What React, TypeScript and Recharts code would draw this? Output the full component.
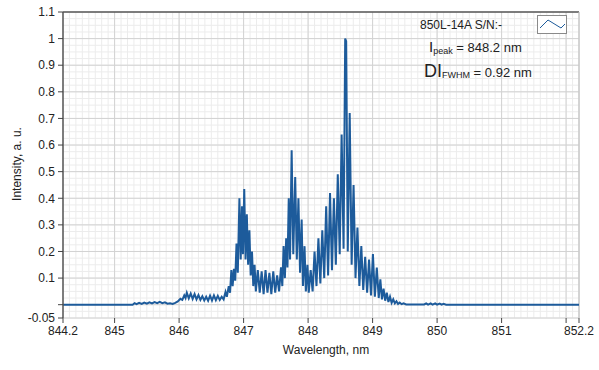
import { CartesianGrid, Line, LineChart, ReferenceLine, XAxis, YAxis } from "recharts";

// spectrum (nm, a.u.)
const wavelength = [
  844.2, 845.28, 845.31, 845.34, 845.38, 845.42, 845.46, 845.5, 845.54, 845.58, 845.62, 845.66, 845.7, 845.74,
  845.78, 845.82, 845.86, 845.9, 845.94, 845.98, 846.02, 846.05, 846.08, 846.1, 846.12, 846.15, 846.18, 846.21,
  846.24, 846.27, 846.3, 846.33, 846.36, 846.39, 846.42, 846.45, 846.48, 846.51, 846.54, 846.57, 846.6, 846.63,
  846.66, 846.69, 846.72, 846.74, 846.77, 846.79, 846.81, 846.83, 846.85, 846.87, 846.89, 846.91, 846.935, 846.955,
  846.975, 846.99, 847.01, 847.03, 847.05, 847.07, 847.09, 847.11, 847.13, 847.15, 847.17, 847.19, 847.22, 847.25,
  847.28, 847.31, 847.34, 847.37, 847.4, 847.43, 847.46, 847.49, 847.52, 847.55, 847.58, 847.6, 847.62, 847.64,
  847.66, 847.68, 847.7, 847.72, 847.745, 847.77, 847.8, 847.825, 847.85, 847.875, 847.9, 847.92, 847.945, 847.965,
  847.99, 848.01, 848.04, 848.07, 848.1, 848.13, 848.16, 848.19, 848.22, 848.25, 848.28, 848.31, 848.34, 848.37,
  848.4, 848.43, 848.46, 848.49, 848.52, 848.55, 848.575, 848.59, 848.615, 848.645, 848.675, 848.705, 848.735,
  848.765, 848.795, 848.825, 848.855, 848.885, 848.915, 848.945, 848.975, 849.005, 849.035, 849.065, 849.095,
  849.12, 849.145, 849.17, 849.195, 849.22, 849.245, 849.27, 849.295, 849.32, 849.345, 849.37, 849.395, 849.42,
  849.45, 849.48, 849.52, 849.8, 849.83, 849.86, 849.9, 849.93, 849.97, 850.0, 850.04, 850.07, 850.1, 850.14, 852.2,
];
const intensity = [
  0, 0, 0.006, 0.002, 0.007, 0.003, 0.008, 0.004, 0.009, 0.005, 0.01, 0.006, 0.011, 0.006,
  0.009, 0.004, 0.005, 0.003, 0.007, 0.012, 0.022, 0.018, 0.035, 0.025, 0.045, 0.024, 0.042, 0.022,
  0.04, 0.02, 0.036, 0.018, 0.032, 0.016, 0.03, 0.015, 0.034, 0.016, 0.035, 0.017, 0.033, 0.018,
  0.03, 0.02, 0.048, 0.03, 0.07, 0.045, 0.13, 0.07, 0.135, 0.09, 0.23, 0.12, 0.4, 0.17,
  0.37, 0.19, 0.435, 0.17, 0.34, 0.15, 0.28, 0.11, 0.2, 0.07, 0.15, 0.05, 0.13, 0.045,
  0.125, 0.04, 0.13, 0.045, 0.12, 0.04, 0.125, 0.045, 0.11, 0.05, 0.14, 0.07, 0.22, 0.1,
  0.25, 0.14, 0.4, 0.17, 0.58, 0.19, 0.48, 0.17, 0.4, 0.12, 0.32, 0.07, 0.22, 0.05,
  0.15, 0.045, 0.13, 0.05, 0.2, 0.07, 0.25, 0.08, 0.28, 0.1, 0.37, 0.11, 0.42, 0.13,
  0.4, 0.15, 0.49, 0.19, 0.64, 0.21, 1.0, 0.99, 0.2, 0.72, 0.15, 0.45, 0.1,
  0.29, 0.07, 0.22, 0.055, 0.18, 0.045, 0.17, 0.035, 0.19, 0.03, 0.14, 0.025,
  0.095, 0.02, 0.06, 0.015, 0.045, 0.01, 0.03, 0.007, 0.02, 0.005, 0.013, 0.003, 0.008,
  0.002, 0.005, 0.001, 0.001, 0.005, 0, 0.005, 0, 0.005, 0, 0.004, 0, 0.003, 0, 0,
];

const xTicks = [844.2, 845, 846, 847, 848, 849, 850, 851, 852, 852.2];
const yTicks = [-0.05, 0, 0.1, 0.2, 0.3, 0.4, 0.5, 0.6, 0.7, 0.8, 0.9, 1, 1.1];
const majorX = [845, 846, 847, 848, 849, 850, 851, 852, 852.2];
const majorY = [-0.05, 0, 0.1, 0.2, 0.3, 0.4, 0.5, 0.6, 0.7, 0.8, 0.9, 1];

const data = wavelength.map((x, i) => ({ x, y: intensity[i] }));

const minorX: number[] = [];
for (let i = 0; i <= 80; i++) minorX.push(+(844.2 + i * 0.1).toFixed(2));
const minorY: number[] = [];
for (let i = 0; i <= 46; i++) minorY.push(+(-0.05 + i * 0.025).toFixed(3));

const font = "'Liberation Sans', Arial, sans-serif";
const tickStyle = { fontSize: 12, fill: "#222", fontFamily: font };

export default function App() {
  return (
    <div style={{ position: "absolute", left: 0, top: 0, width: 599, height: 370, background: "#fff" }}>
      <LineChart width={599} height={370} data={data} margin={{ top: 12, right: 20, bottom: 22, left: 0 }}>
        <CartesianGrid stroke="#ececec" horizontalValues={minorY} verticalValues={minorX} />
        <CartesianGrid stroke="#d2d2d2" horizontalValues={majorY} verticalValues={majorX} />
        <XAxis
          dataKey="x"
          type="number"
          domain={[844.2, 852.2]}
          ticks={xTicks}
          allowDataOverflow
          height={30}
          axisLine={false}
          tickLine={{ stroke: "#444" }}
          tickSize={5}
          tickMargin={3}
          tick={tickStyle}
          tickFormatter={(v: number) => (v === 852 ? "" : String(v))}
          interval={0}
          label={{
            content: () => (
              <text x={326} y={354} textAnchor="middle" fontSize={12} fill="#222" fontFamily={font}>
                Wavelength, nm
              </text>
            ),
          }}
        />
        <YAxis
          type="number"
          domain={[-0.05, 1.1]}
          ticks={yTicks}
          allowDataOverflow
          width={63}
          axisLine={{ stroke: "#555", strokeWidth: 1.5 }}
          tickLine={{ stroke: "#444" }}
          tickSize={5}
          tickMargin={3}
          tick={tickStyle}
          tickFormatter={(v: number) => (v === 0 ? "" : String(v))}
          interval={0}
          label={{
            content: () => (
              <text
                x={21}
                y={164}
                transform="rotate(-90 21 164)"
                textAnchor="middle"
                fontSize={12}
                fill="#222"
                fontFamily={font}
              >
                Intensity, a. u.
              </text>
            ),
          }}
        />
        <ReferenceLine y={1.1} stroke="#555" strokeWidth={1.5} />
        <ReferenceLine x={852.2} stroke="#c4c4c4" />
        <Line
          type="linear"
          dataKey="y"
          stroke="#1d5b9b"
          strokeWidth={2}
          dot={false}
          isAnimationActive={false}
        />
      </LineChart>
      <svg width={599} height={370} style={{ position: "absolute", left: 0, top: 0, pointerEvents: "none" }}>
        <text x={420} y={29} fontSize={12} fill="#222" fontFamily={font}>
          850L-14A S/N:-
        </text>
        <rect x={537.5} y={15.5} width={29} height={18} fill="#fff" stroke="#8a8a8a" />
        <polyline points="540,28 548,20 561,28 565,24" fill="none" stroke="#1d5b9b" strokeWidth={1} />
        <text x={429} y={52} fill="#222" fontFamily={font}>
          <tspan fontSize={15}>I</tspan>
          <tspan fontSize={9} dy={2}>peak</tspan>
          <tspan fontSize={13} dy={-2}> = 848.2 nm</tspan>
        </text>
        <text x={424} y={77} fill="#222" fontFamily={font}>
          <tspan fontSize={18}>DI</tspan>
          <tspan fontSize={9} dy={1}>FWHM</tspan>
          <tspan fontSize={13} dy={-1}> = 0.92 nm</tspan>
        </text>
      </svg>
    </div>
  );
}
